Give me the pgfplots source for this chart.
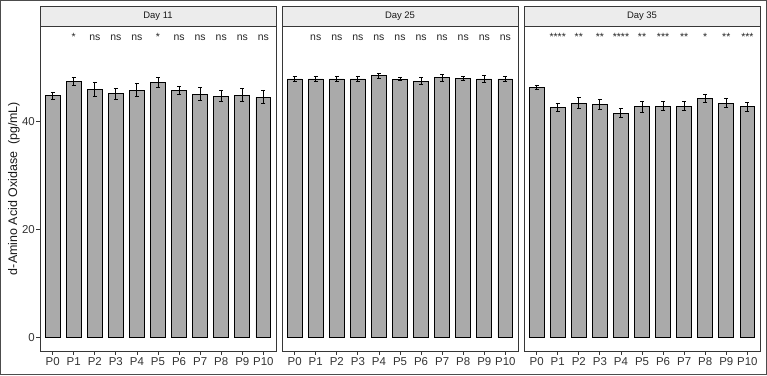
\documentclass[border=0pt]{standalone}
\usepackage{pgfplots}
\pgfplotsset{compat=1.18}
\usepackage{pgfplotstable}
\usepackage{fontspec}
\setmainfont{Liberation Sans}
\definecolor{barfill}{RGB}{170,170,170}
\definecolor{stripfill}{RGB}{236,236,236}
\definecolor{frame}{RGB}{55,55,55}

\pgfplotstableread{
x y e
0 44.7 0.65
1 47.3 0.7
2 45.9 1.3
3 45.1 1.0
4 45.7 1.2
5 47.1 0.9
6 45.7 0.8
7 44.95 1.2
8 44.6 1.0
9 44.8 1.2
10 44.4 1.2
}\dayA
\pgfplotstableread{
x y e
0 47.8 0.4
1 47.8 0.5
2 47.8 0.5
3 47.8 0.5
4 48.4 0.5
5 47.75 0.3
6 47.4 0.6
7 48.0 0.7
8 47.9 0.4
9 47.8 0.6
10 47.8 0.5
}\dayB
\pgfplotstableread{
x y e
0 46.2 0.35
1 42.55 0.7
2 43.35 1.0
3 43.1 0.9
4 41.5 0.8
5 42.65 1.0
6 42.8 0.8
7 42.8 0.9
8 44.2 0.7
9 43.35 0.9
10 42.65 0.8
}\dayC
\pgfplotstableread{
x y lab
1 54.9 *
2 54.9 ns
3 54.9 ns
4 54.9 ns
5 54.9 *
6 54.9 ns
7 54.9 ns
8 54.9 ns
9 54.9 ns
10 54.9 ns
}\sigA
\pgfplotstableread{
x y lab
1 54.9 ns
2 54.9 ns
3 54.9 ns
4 54.9 ns
5 54.9 ns
6 54.9 ns
7 54.9 ns
8 54.9 ns
9 54.9 ns
10 54.9 ns
}\sigB
\pgfplotstableread{
x y lab
1 54.9 ****
2 54.9 **
3 54.9 **
4 54.9 ****
5 54.9 **
6 54.9 ***
7 54.9 **
8 54.9 *
9 54.9 **
10 54.9 ***
}\sigC

\pgfplotsset{
  panel/.style={
    width=236bp, height=325bp, scale only axis,
    xmin=-0.6, xmax=10.6, ymin=-2.5, ymax=57.6,
    axis line style={frame, line width=0.8bp},
    xtick={0,...,10},
    xticklabels={P0,P1,P2,P3,P4,P5,P6,P7,P8,P9,P10},
    xtick pos=left, ytick pos=left,
    tick align=outside, major tick length=3.5bp,
    tick style={frame, line width=0.8bp},
    /pgf/number format/assume math mode=true,
    ticklabel style={font=\fontsize{11.5}{13}\selectfont, color=black!80},
    xticklabel style={inner sep=0bp, yshift=-3bp},
    yticklabel style={inner sep=1.5bp},
    clip=false,
  },
  bars/.style={
    ybar, bar width=0.7, fill=barfill, draw=black, line width=0.9bp,
    error bars/.cd, y dir=both, y explicit,
    error bar style={black, line width=0.9bp},
    error mark options={rotate=90, mark size=2bp, line width=0.9bp, black},
  },
  sig/.style={
    draw=none, mark=none, nodes near coords,
    point meta=explicit symbolic,
    every node near coord/.append style={anchor=south, inner sep=0pt,
      font=\fontsize{10.5}{12}\selectfont, color=black!85},
  },
}

\begin{document}
\begin{tikzpicture}[x=1bp,y=1bp]
\useasboundingbox (0,0) rectangle (767,375);
\draw[gray!60!black, line width=1bp] (0.5,0.5) rectangle (766.5,374.5);

% Panel 1
\begin{axis}[panel, at={(40bp,24bp)}, anchor=south west,
  ytick={0,20,40},
  ylabel={d-Amino Acid Oxidase\ \ (pg/mL)},
  every axis y label/.style={at={([xshift=-26bp]rel axis cs:0,0.5)}, rotate=90, anchor=center,
    font=\fontsize{12.5}{14}\selectfont, color=black!90},
]
\addplot[bars] table[x=x, y=y, y error=e] {\dayA};
\addplot[sig] table[x=x, y=y, meta=lab] {\sigA};
\end{axis}

% Panel 2
\begin{axis}[panel, at={(282bp,24bp)}, anchor=south west, ytick=\empty]
\addplot[bars] table[x=x, y=y, y error=e] {\dayB};
\addplot[sig] table[x=x, y=y, meta=lab] {\sigB};
\end{axis}

% Panel 3
\begin{axis}[panel, at={(524bp,24bp)}, anchor=south west, ytick=\empty]
\addplot[bars] table[x=x, y=y, y error=e] {\dayC};
\addplot[sig] table[x=x, y=y, meta=lab] {\sigC};
\end{axis}

% Strips
\foreach \x/\lab in {40/Day 11, 282/Day 25, 524/Day 35} {
  \draw[frame, fill=stripfill, line width=0.8bp] (\x,349) rectangle ++(236,20);
  \node[font=\fontsize{9.5}{11}\selectfont, color=black!90] at (\x+118,359) {\lab};
}
\end{tikzpicture}
\end{document}
